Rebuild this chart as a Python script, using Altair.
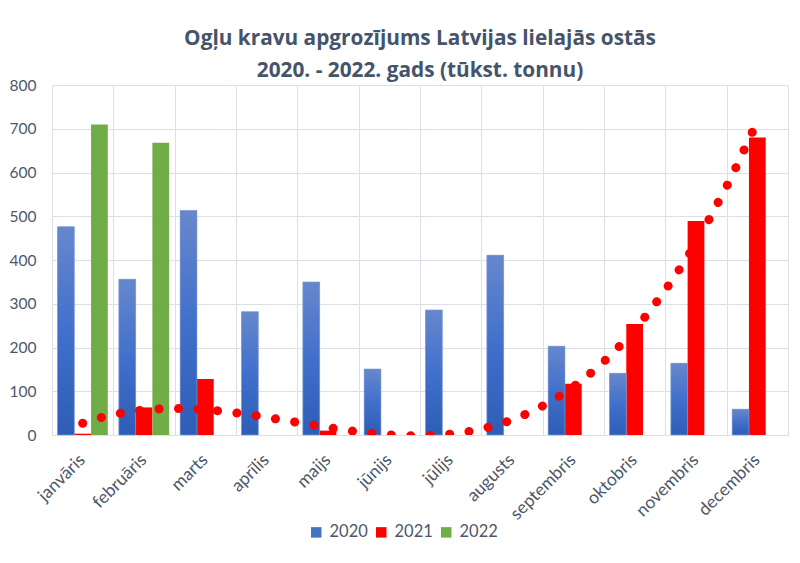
import altair as alt
import pandas as pd

months = ["janvāris", "februāris", "marts", "aprīlis", "maijs", "jūnijs",
          "jūlijs", "augusts", "septembris", "oktobris", "novembris", "decembris"]
years = ["2020", "2021", "2022"]
v2020 = [476, 356, 513, 282, 350, 151, 286, 411, 203, 141, 164, 59]
v2021 = [3, 63, 128, 0, 10, 0, 0, 0, 117, 254, 489, 680]
v2022 = [710, 668, None, None, None, None, None, None, None, None, None, None]
title_lines = ["Ogļu kravu apgrozījums Latvijas lielajās ostās",
               "2020. - 2022. gads (tūkst. tonnu)"]

rows = []
for i, m in enumerate(months):
    for yr, vals in zip(years, (v2020, v2021, v2022)):
        if vals[i] is not None:
            rows.append({"month": m, "year": yr, "value": vals[i]})
bars_df = pd.DataFrame(rows)
trend_df = pd.DataFrame({"idx": list(range(1, 13)), "value": v2021})

GRID = "#dcdfe6"
LABEL = "#4d5769"
BLUE = "#4472c4"
RED = "#ff0000"
GREEN = "#70ad47"
FONT = "Lato"

y_enc = alt.Y("value:Q",
              scale=alt.Scale(domain=[0, 800], nice=False),
              axis=alt.Axis(values=list(range(0, 801, 100)), title=None, grid=True,
                            gridColor=GRID, ticks=False, domain=False, labelPadding=16,
                            labelFontSize=15.5, labelColor=LABEL, labelFont=FONT))

band_axis = alt.Axis(title=None, labelAngle=-45, labelAlign="right",
                     labelBaseline="middle", labelFontSize=17.5, labelColor=LABEL,
                     labelFont=FONT, ticks=False, domain=True, domainColor=GRID,
                     labelPadding=22, grid=False, orient="bottom")
x_band = alt.X("month:N", sort=months,
               scale=alt.Scale(domain=months, paddingInner=0.18, paddingOuter=0.09),
               axis=band_axis)

xoff = alt.XOffset("year:N", scale=alt.Scale(domain=years, paddingInner=0, paddingOuter=0))

color = alt.Color("year:N",
                  scale=alt.Scale(domain=years, range=[BLUE, RED, GREEN]),
                  legend=alt.Legend(title=None, orient="none", legendX=256, legendY=439,
                                    direction="horizontal", symbolType="square",
                                    symbolSize=110, symbolStrokeWidth=0,
                                    labelFontSize=16.5, labelFont=FONT, labelColor=LABEL,
                                    columnPadding=5, labelOffset=5))

bars = alt.Chart(bars_df).mark_bar().encode(x=x_band, y=y_enc, xOffset=xoff, color=color)

gradient = alt.Gradient(
    gradient="linear",
    stops=[alt.GradientStop(color="#6787cc", offset=0),
           alt.GradientStop(color="#4170cc", offset=0.5),
           alt.GradientStop(color="#2d5db6", offset=1)],
    x1=0, x2=0, y1=0, y2=1)

bars2020 = alt.Chart(bars_df).transform_filter(alt.datum.year == "2020").mark_bar(
    color=gradient, stroke="#8aa3d8", strokeWidth=0.6).encode(
    x=x_band, y=y_enc, xOffset=xoff)

trend = alt.Chart(trend_df).transform_regression(
    "idx", "value", method="poly", order=3, extent=[1, 12]
).mark_line(color=RED, strokeWidth=9, strokeDash=[0.1, 19.4], strokeCap="round",
            clip=True).encode(
    x=alt.X("idx:Q", scale=alt.Scale(domain=[0.5, 12.5], nice=False, zero=False),
            axis=alt.Axis(values=[0.5 + i for i in range(13)], grid=True, gridColor=GRID,
                          labels=False, ticks=False, domain=False, title=None,
                          orient="top")),
    y=alt.Y("value:Q"))

chart = alt.layer(alt.layer(bars, bars2020), trend).resolve_scale(x="independent").properties(
    width=736, height=350,
    title=alt.TitleParams(text=title_lines, font="Open Sans", fontSize=20.8, fontWeight="bold",
                          color="#44546a", lineHeight=32, anchor="middle", offset=8, dy=12),
    autosize=alt.AutoSizeParams(type="none"),
    padding={"left": 44, "top": 77, "right": 4, "bottom": 110},
).configure_view(stroke=None)

chart.save("out.html", embed_options={"renderer": "svg", "actions": False})
